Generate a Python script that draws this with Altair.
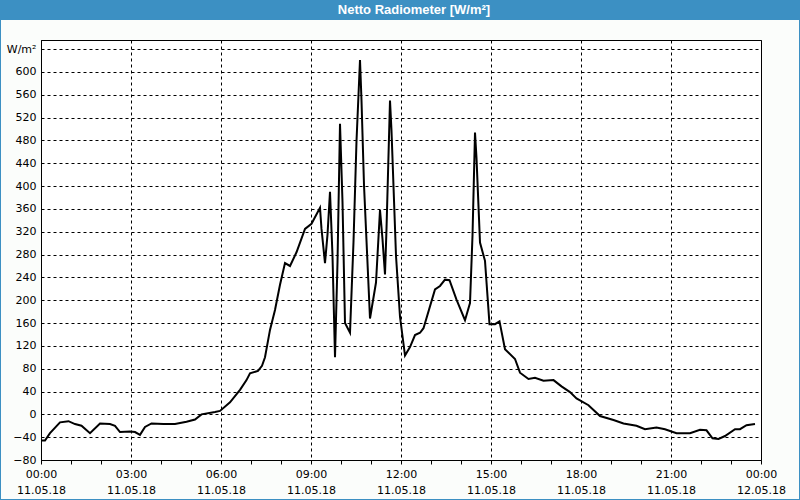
import altair as alt
import pandas as pd

# minutes since 00:00 on 11.05.18
minutes = [0, 8, 18, 38, 55, 68, 81, 98, 118, 138, 148, 158, 178, 188, 198, 208, 221, 245, 268, 291,
           308, 321, 348, 358, 378, 398, 411, 418, 434, 442, 448, 458, 468, 478, 488, 498, 511, 528,
           541, 558, 561, 568, 573, 578, 583, 588, 593, 598, 603, 608, 618, 625, 631, 638, 641, 646,
           658, 670, 678, 683, 688, 691, 698, 701, 710, 718, 728, 738, 748, 758, 765, 788, 798, 808,
           817, 831, 848, 858, 863, 868, 871, 878, 888, 897, 908, 917, 928, 948, 958, 975, 988, 1005,
           1025, 1041, 1058, 1071, 1095, 1118, 1145, 1165, 1191, 1208, 1231, 1248, 1271, 1298, 1318,
           1331, 1343, 1355, 1368, 1388, 1398, 1411, 1428]
values = [-46, -46, -33, -14, -12, -17, -20, -33, -16, -17, -20, -31, -30, -31, -36, -22, -16, -17, -17, -13,
          -9, 0, 4, 6, 21, 43, 60, 72, 76, 85, 100, 148, 183, 227, 265, 260, 284, 325,
          334, 362, 325, 265, 315, 390, 278, 100, 266, 509, 372, 160, 143, 302, 479, 621, 550, 402,
          168, 231, 358, 307, 245, 325, 550, 497, 278, 171, 103, 118, 139, 143, 151, 219, 225, 236,
          235, 201, 165, 195, 313, 494, 449, 301, 269, 158, 158, 163, 114, 97, 73, 62, 64, 59,
          60, 49, 39, 28, 16, -3, -10, -16, -20, -26, -23, -26, -33, -33, -27,
          -28, -42, -43, -38, -26, -26, -19, -17]

title_text = "Netto Radiometer [W/m²]"
unit_label = "W/m²"
y_ticks = list(range(-80, 641, 40))

base_day = pd.Timestamp("2018-05-11 00:00:00")
df = pd.DataFrame({
    "t": [(base_day + pd.Timedelta(minutes=m)).strftime("%Y-%m-%dT%H:%M:%S") for m in minutes],
    "v": values,
})

hour_ticks = [alt.DateTime(year=2018, month=5, date=11 + (h // 24), hours=h % 24) for h in range(0, 25)]

x_enc = alt.X(
    "t:T",
    scale=alt.Scale(domain=[alt.DateTime(year=2018, month=5, date=11, hours=0),
                            alt.DateTime(year=2018, month=5, date=12, hours=0)]),
    axis=alt.Axis(
        title=None,
        values=hour_ticks,
        labelExpr="hours(datum.value) % 3 == 0 ? [timeFormat(datum.value, '%H:%M'), timeFormat(datum.value, '%d.%m.%y')] : ''",
        labelOverlap=False,
        labelFlush=False,
        labelBound=False,
        labelFont="DejaVu Sans",
        labelFontSize=11,
        labelColor="#000000",
        labelBaseline="top",
        labelPadding=4,
        labelLineHeight=16,
        tickSize=4,
        tickColor="#000000",
        domainColor="#000000",
        grid=True,
        gridColor="#000000",
        gridDash=[3, 3],
        gridOpacity={"condition": {"test": "hours(datum.value) % 3 == 0", "value": 1}, "value": 0},
    ),
)

y_enc = alt.Y(
    "v:Q",
    scale=alt.Scale(domain=[-80, 656], nice=False, zero=False),
    axis=alt.Axis(
        title=None,
        values=y_ticks,
        labelExpr=f"datum.value == 640 ? '{unit_label}' : datum.label",
        labelFont="DejaVu Sans",
        labelFontSize=11,
        labelColor="#000000",
        labelPadding=5,
        ticks=False,
        domainColor="#000000",
        grid=True,
        gridColor="#000000",
        gridDash=[3, 3],
        gridOpacity=1,
    ),
)

line = alt.Chart(df).mark_line(color="#000000", strokeWidth=2).encode(x=x_enc, y=y_enc)

title_bar = alt.Chart(df).mark_rect(color="#3c90c3").encode(
    x=alt.value(-41), x2=alt.value(759), y=alt.value(-40), y2=alt.value(-20)
)
frame = alt.Chart(df).mark_rect(fillOpacity=0, stroke="#3c90c3", strokeWidth=1).encode(
    x=alt.value(-40.5), x2=alt.value(758.5), y=alt.value(-39.5), y2=alt.value(459.5)
)
title_txt = alt.Chart(pd.DataFrame({"label": [title_text]})).mark_text(
    color="#ffffff", font="Liberation Sans", fontWeight="bold", fontSize=13,
    align="center", baseline="middle"
).encode(text="label:N", x=alt.value(373), y=alt.value(-30))

chart = alt.layer(line, title_bar, frame, title_txt).properties(
    width=720,
    height=420,
    autosize=alt.AutoSizeParams(type="none"),
    padding={"left": 41, "top": 40, "right": 39, "bottom": 40},
    background="#fbfdfb",
).configure_view(stroke="#000000", strokeWidth=1, fill="#ffffff")

chart.save("out.html", embed_options={"renderer": "svg", "actions": False})
